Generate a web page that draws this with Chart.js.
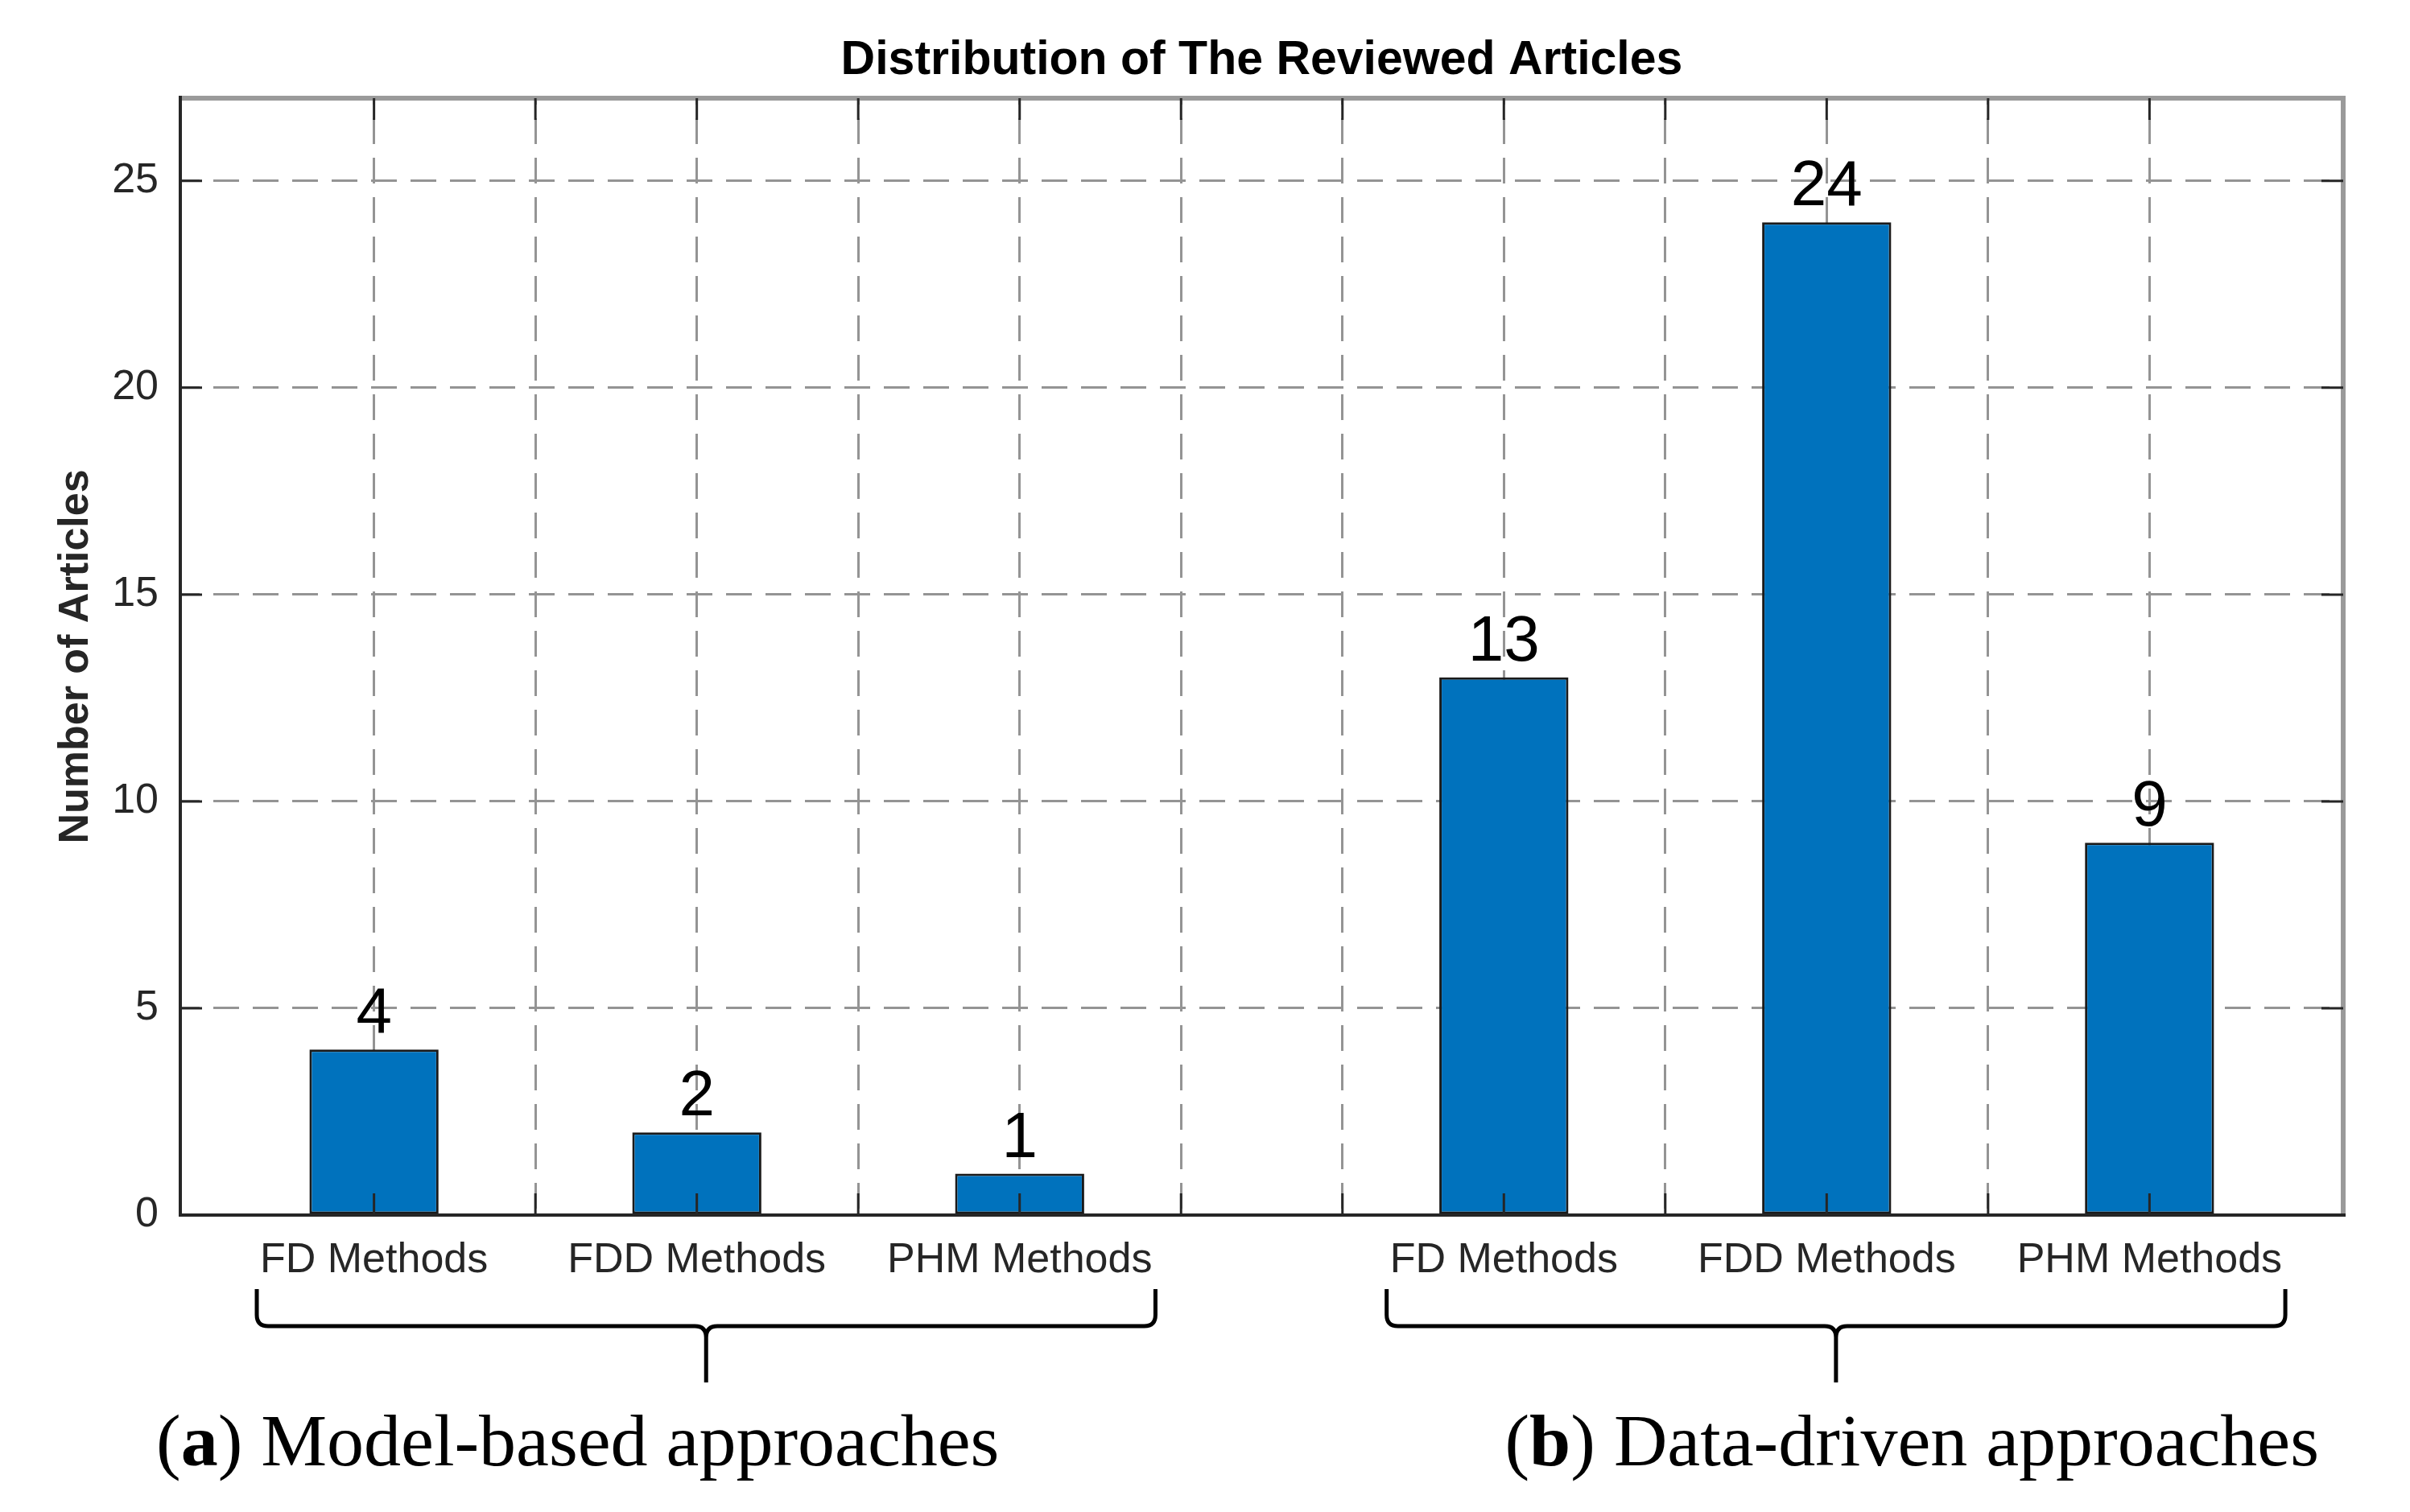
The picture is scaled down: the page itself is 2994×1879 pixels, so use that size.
<!DOCTYPE html>
<html>
<head>
<meta charset="utf-8">
<title>Distribution of The Reviewed Articles</title>
<script src="https://cdn.jsdelivr.net/npm/chart.js@4.4.1/dist/chart.umd.min.js"></script>
<style>
  html, body { margin: 0; padding: 0; background: #ffffff; overflow: hidden; }
  canvas { display: block; }
</style>
</head>
<body>
<canvas id="bar-chart" width="2994" height="1879"></canvas>
<script>
// Data
var categories = ["FD Methods", "FDD Methods", "PHM Methods", "FD Methods", "FDD Methods", "PHM Methods"];
var positions = [1, 3, 5, 8, 10, 12];
var articles = [4, 2, 1, 13, 24, 9];
var xTicks = [1, 2, 3, 4, 5, 6, 7, 8, 9, 10, 11, 12];
var yTicks = [0, 5, 10, 15, 20, 25];
var groupLetters = ["a", "b"];
var groupNames = ["Model-based approaches", "Data-driven approaches"];
var groupMembers = [[0, 1, 2], [3, 4, 5]];

var sans = "'Liberation Sans', Arial, Helvetica, sans-serif";
var serif = "'Liberation Serif', 'Times New Roman', serif";
var axisColor = "#262626";
var gridColor = "#949494";
var tickLen = 27;

Chart.defaults.font.family = sans;

// value labels, inside ticks, axes box, braces and captions
var extras = {
  id: 'extras',
  afterDatasetsDraw: function (chart) {
    var ctx = chart.ctx;
    var bars = chart.getDatasetMeta(0).data;
    ctx.save();
    ctx.fillStyle = "#000000";
    ctx.font = "80px " + sans;
    ctx.textAlign = "center";
    ctx.textBaseline = "alphabetic";
    for (var i = 0; i < bars.length; i++) {
      ctx.fillText(String(articles[i]), bars[i].x, bars[i].y - 21);
    }
    ctx.restore();
  },
  afterDraw: function (chart) {
    var ctx = chart.ctx;
    var a = chart.chartArea;
    var xs = chart.scales.x;
    var ys = chart.scales.y;
    ctx.save();

    // box
    ctx.strokeStyle = "#9a9a9a";
    ctx.lineWidth = 6;
    ctx.beginPath();
    ctx.moveTo(a.left, a.top);
    ctx.lineTo(a.right, a.top);
    ctx.lineTo(a.right, a.bottom);
    ctx.stroke();
    ctx.strokeStyle = axisColor;
    ctx.lineWidth = 4;
    ctx.beginPath();
    ctx.moveTo(a.left, a.top - 3);
    ctx.lineTo(a.left, a.bottom);
    ctx.lineTo(a.right + 3, a.bottom);
    ctx.stroke();

    // tick marks pointing inwards
    ctx.lineWidth = 3;
    ctx.beginPath();
    xTicks.forEach(function (v) {
      var px = xs.getPixelForValue(v);
      ctx.moveTo(px, a.bottom);
      ctx.lineTo(px, a.bottom - tickLen);
      ctx.moveTo(px, a.top);
      ctx.lineTo(px, a.top + tickLen);
    });
    yTicks.forEach(function (v) {
      var py = ys.getPixelForValue(v);
      ctx.moveTo(a.left, py);
      ctx.lineTo(a.left + tickLen, py);
      ctx.moveTo(a.right, py);
      ctx.lineTo(a.right - tickLen, py);
    });
    ctx.stroke();

    // braces under each group of labels
    ctx.font = "52px " + sans;
    ctx.strokeStyle = "#000000";
    ctx.lineWidth = 5;
    ctx.lineJoin = "round";
    var top = a.bottom + 92, mid = a.bottom + 138, tip = a.bottom + 208, r = 14;
    groupMembers.forEach(function (m) {
      var first = m[0], last = m[m.length - 1];
      var L = xs.getPixelForValue(positions[first]) - ctx.measureText(categories[first]).width / 2 - 4;
      var R = xs.getPixelForValue(positions[last]) + ctx.measureText(categories[last]).width / 2 + 4;
      var C = (L + R) / 2;
      ctx.beginPath();
      ctx.moveTo(L, top);
      ctx.lineTo(L, mid - r);
      ctx.quadraticCurveTo(L, mid, L + r, mid);
      ctx.lineTo(C - r, mid);
      ctx.quadraticCurveTo(C, mid, C, mid + r);
      ctx.lineTo(C, tip);
      ctx.moveTo(C, mid + r);
      ctx.quadraticCurveTo(C, mid, C + r, mid);
      ctx.lineTo(R - r, mid);
      ctx.quadraticCurveTo(R, mid, R, mid - r);
      ctx.lineTo(R, top);
      ctx.stroke();
    });

    // captions (a) and (b)
    ctx.fillStyle = "#000000";
    ctx.textAlign = "left";
    ctx.textBaseline = "alphabetic";
    var capY = a.bottom + 311;
    groupMembers.forEach(function (m, g) {
      var parts = [["(", "normal"], [groupLetters[g], "bold"], [") " + groupNames[g], "normal"]];
      var widths = [];
      var total = 0;
      parts.forEach(function (p) {
        ctx.font = p[1] + " 92px " + serif;
        var w = ctx.measureText(p[0]).width;
        widths.push(w);
        total += w;
      });
      var x = g === 0 ? a.left - 30 : a.right - 30 - total;
      parts.forEach(function (p, k) {
        ctx.font = p[1] + " 92px " + serif;
        ctx.fillText(p[0], x, capY);
        x += widths[k];
      });
    });

    ctx.restore();
  }
};

// Bar chart
new Chart(document.getElementById("bar-chart"), {
  type: 'bar',
  data: {
    datasets: [
      {
        label: "Number of Articles",
        data: positions.map(function (p, i) { return { x: p, y: articles[i] }; }),
        backgroundColor: "#0072BD",
        borderColor: "#1a1a1a",
        borderWidth: 3,
        borderSkipped: false,
        categoryPercentage: 1,
        barPercentage: 0.8
      }
    ]
  },
  plugins: [extras],
  options: {
    responsive: false,
    devicePixelRatio: 1,
    animation: false,
    layout: { padding: { left: 0, right: 83, top: 0, bottom: 0 } },
    plugins: {
      legend: { display: false },
      tooltip: { enabled: false },
      title: {
        display: true,
        fullSize: false,
        text: 'Distribution of The Reviewed Articles',
        color: '#000000',
        font: { size: 59, weight: 'bold', lineHeight: 1 },
        padding: { top: 46, bottom: 17 }
      }
    },
    scales: {
      x: {
        type: 'linear',
        min: -0.2,
        max: 13.2,
        offset: false,
        afterBuildTicks: function (axis) {
          axis.ticks = xTicks.map(function (v) { return { value: v }; });
        },
        afterFit: function (axis) { axis.height = 369; },
        ticks: {
          color: axisColor,
          font: { size: 52 },
          padding: 25,
          autoSkip: false,
          maxRotation: 0,
          minRotation: 0,
          callback: function (value) {
            var i = positions.indexOf(value);
            return i >= 0 ? categories[i] : '';
          }
        },
        grid: { offset: false, color: gridColor, lineWidth: 3, drawTicks: false },
        border: { display: false, dash: [32, 17], dashOffset: 24 }
      },
      y: {
        min: 0,
        max: 27,
        afterBuildTicks: function (axis) {
          axis.ticks = yTicks.map(function (v) { return { value: v }; });
        },
        afterFit: function (axis) { axis.width = 224; },
        ticks: { color: axisColor, font: { size: 52 }, padding: 27 },
        grid: { color: gridColor, lineWidth: 3, drawTicks: false },
        border: { display: false, dash: [32, 17], dashOffset: 8 },
        title: {
          display: true,
          text: 'Number of Articles',
          color: axisColor,
          font: { size: 52, weight: 'bold', lineHeight: 1.2 },
          padding: { top: 63, bottom: 0 }
        }
      }
    }
  }
});
</script>
</body>
</html>
